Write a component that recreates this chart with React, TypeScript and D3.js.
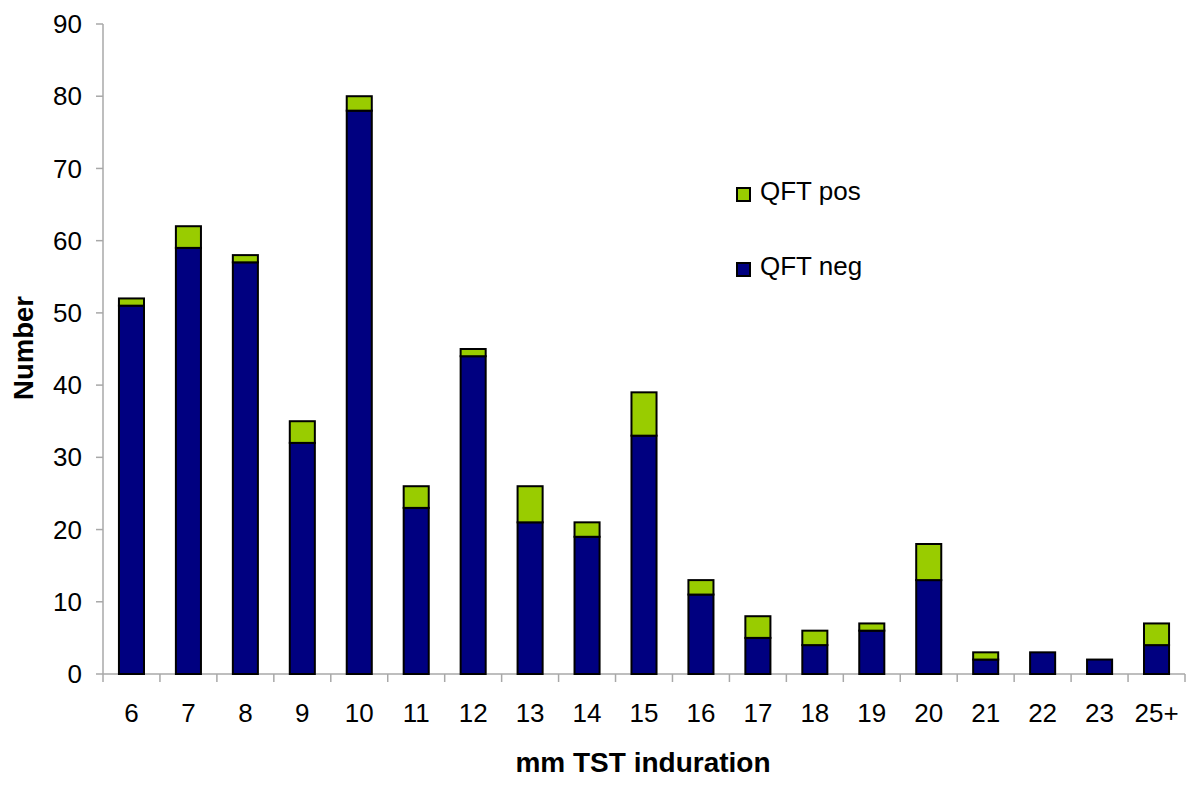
import React from "react";
import * as d3 from "d3";

const categories = ["6","7","8","9","10","11","12","13","14","15","16","17","18","19","20","21","22","23","25+"];
const qftNeg = [51,59,57,32,78,23,44,21,19,33,11,5,4,6,13,2,3,2,4];
const qftPos = [1,3,1,3,2,3,1,5,2,6,2,3,2,1,5,1,0,0,3];
const yTicks = [0,10,20,30,40,50,60,70,80,90];

const W = 1200, H = 801;
const left = 103, right = 1185, top = 24, bottom = 674;

export default function App() {
  const x = d3.scaleBand<string>().domain(categories).range([left, right]).paddingInner(0.56).paddingOuter(0.28);
  const xb = d3.scaleBand<string>().domain(categories).range([left, right]);
  const y = d3.scaleLinear().domain([0, 90]).range([bottom, top]);
  const axisColor = "#a8a8a8";
  const font = "Arial, 'Liberation Sans', sans-serif";
  return (
    <svg width={W} height={H} style={{ position: "absolute", left: 0, top: 0, background: "#fff" }} fontFamily={font}>
      <rect width={W} height={H} fill="#fff" />
      {/* y axis */}
      <line x1={left} x2={left} y1={top} y2={bottom} stroke={axisColor} strokeWidth={1.5} />
      {yTicks.map(t => (
        <g key={t}>
          <line x1={left - 7} x2={left} y1={y(t)} y2={y(t)} stroke={axisColor} strokeWidth={1.5} />
          <text x={82} y={y(t)} dy="0.35em" textAnchor="end" fontSize={26}>{t}</text>
        </g>
      ))}
      {/* x axis */}
      <line x1={left} x2={right} y1={bottom} y2={bottom} stroke={axisColor} strokeWidth={1.5} />
      {categories.map(c => (
        <line key={"t" + c} x1={xb(c)!} x2={xb(c)!} y1={bottom} y2={bottom + 8} stroke={axisColor} strokeWidth={1.5} />
      ))}
      <line x1={right} x2={right} y1={bottom} y2={bottom + 8} stroke={axisColor} strokeWidth={1.5} />
      {categories.map(c => (
        <text key={"l" + c} x={xb(c)! + xb.bandwidth() / 2} y={722} textAnchor="middle" fontSize={26}>{c}</text>
      ))}
      {/* bars */}
      {categories.map((c, i) => (
        <g key={"b" + c} stroke="#000" strokeWidth={2}>
          <rect x={x(c)!} width={x.bandwidth()} y={y(qftNeg[i])} height={y(0) - y(qftNeg[i])} fill="#000080" />
          {qftPos[i] > 0 && (
            <rect x={x(c)!} width={x.bandwidth()} y={y(qftNeg[i] + qftPos[i])} height={y(qftNeg[i]) - y(qftNeg[i] + qftPos[i])} fill="#99CC00" />
          )}
        </g>
      ))}
      {/* titles */}
      <text x={643} y={772} textAnchor="middle" fontSize={28} fontWeight="bold">mm TST induration</text>
      <text transform="translate(33,348) rotate(-90)" textAnchor="middle" fontSize={27.5} fontWeight="bold">Number</text>
      {/* legend */}
      <rect x={737} y={188} width={13} height={13} fill="#99CC00" stroke="#000" strokeWidth={2} />
      <text x={760} y={200} fontSize={26}>QFT pos</text>
      <rect x={737} y={263} width={13} height={13} fill="#000080" stroke="#000" strokeWidth={2} />
      <text x={760} y={275} fontSize={26}>QFT neg</text>
    </svg>
  );
}
